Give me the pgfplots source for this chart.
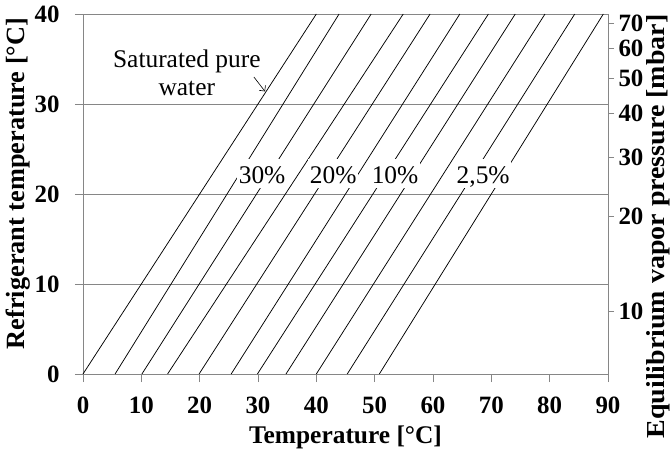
\documentclass[border=0pt]{standalone}
\usepackage{fontspec}
\setmainfont{Liberation Serif}
\usepackage{pgfplots}
\pgfplotsset{compat=1.18}
\usetikzlibrary{arrows.meta}
\definecolor{axisgray}{RGB}{134,134,134}
\tikzset{
  pct/.style={fill=white, anchor=base, inner xsep=1.5bp, inner ysep=0.5bp,
    text height=24bp, text depth=4bp, font=\fontsize{25.5}{28}\selectfont},
}

\begin{document}
\begin{tikzpicture}
% page area around the 525 x 360 plot box
\useasboundingbox (-83bp,-75bp) rectangle (588bp,374bp);
\pgfplotsset{
  every axis/.append style={
    at={(0,0)}, anchor=south west,
    scale only axis, width=525bp, height=360bp,
    xmin=0, xmax=90, ymin=0, ymax=40,
    tick align=outside, major tick length=8bp,
    tick style={axisgray, line width=0.75bp},
    axis line style={axisgray, line width=0.75bp},
    /pgf/number format/assume math mode=true,
    ticklabel style={font=\fontsize{25}{27}\selectfont\bfseries},
  },
}
\begin{axis}[
  clip=false,
  xtick={0,10,...,90}, ytick={0,10,...,40},
  xtick pos=bottom, ytick pos=left,
  xticklabel style={yshift=-11bp},
  yticklabel style={xshift=-12bp},
  ymajorgrids, grid style={axisgray, line width=0.75bp},
]
% isosteres: saturated pure water and increasing salt concentration
\addplot[black, line width=0.75bp] coordinates {(0,0) (40,40)};
\addplot[black, line width=0.75bp] coordinates {(5.5,0) (43.9,40)};
\addplot[black, line width=0.75bp] coordinates {(10.1,0) (49.4,40)};
\addplot[black, line width=0.75bp] coordinates {(14.5,0) (54.9,40)};
\addplot[black, line width=0.75bp] coordinates {(19.9,0) (59.5,40)};
\addplot[black, line width=0.75bp] coordinates {(25.4,0) (64.6,40)};
\addplot[black, line width=0.75bp] coordinates {(29.9,0) (69.5,40)};
\addplot[black, line width=0.75bp] coordinates {(34.8,0) (74.1,40)};
\addplot[black, line width=0.75bp] coordinates {(40.0,0) (79.2,40)};
\addplot[black, line width=0.75bp] coordinates {(45.3,0) (84.3,40)};
\addplot[black, line width=0.75bp] coordinates {(50.8,0) (89.2,40)};

\node[anchor=base, font=\fontsize{25.5}{28}\selectfont] at (axis cs:17.8,34.1) {Saturated pure};
\node[anchor=base, font=\fontsize{25.5}{28}\selectfont] at (axis cs:17.8,31.0) {water};
\draw[-{Straight Barb[length=4bp]}, black, line width=0.6bp] (axis cs:29.3,33.0) -- (axis cs:31.2,31.4);

\node[pct] at (axis cs:30.7,21.2) {30\%};
\node[pct] at (axis cs:42.9,21.2) {20\%};
\node[pct] at (axis cs:53.5,21.2) {10\%};
\node[pct] at (axis cs:68.6,21.2) {2,5\%};

% axis titles
\node[anchor=base, font=\fontsize{25.5}{28}\selectfont\bfseries]
  at ([yshift=-69bp]axis description cs:0.5,0) {Temperature [°C]};
\node[rotate=90, anchor=base, font=\fontsize{26.4}{28}\selectfont\bfseries]
  at ([xshift=-58bp,yshift=10.5bp]axis description cs:0,0.5) {Refrigerant temperature [°C]};
\end{axis}
% right axis: saturation pressure of water at the refrigerant temperature
\begin{axis}[
  axis x line=none, axis y line*=right, clip=false,
  ytick={6.97,17.5,24.08,28.96,32.88,36.16,39.0},
  yticklabels={10,20,30,40,50,60,70},
  yticklabel style={xshift=1bp},
  major tick length=6bp,
]
\node[rotate=90, anchor=base, font=\fontsize{26}{28}\selectfont\bfseries]
  at ([xshift=56.5bp,yshift=-32.5bp]axis description cs:1,0.5) {\scalebox{1.08}[1]{Equilibrium vapor pressure [mbar]}};
\end{axis}
\end{tikzpicture}
\end{document}
